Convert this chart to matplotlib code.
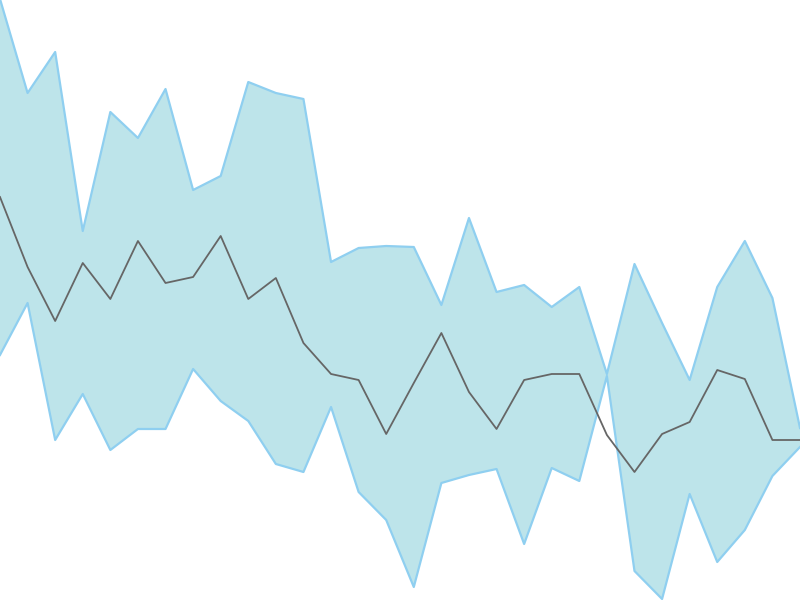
import numpy as np
import matplotlib.pyplot as plt

# values (higher = up)
x = np.arange(30)
upper = [601, 507, 548, 369, 488, 462, 511, 410, 424, 518, 507, 501,
         338, 352, 354, 353, 295, 382, 308, 315, 293, 313, 226,
         336, 277, 220, 313, 359, 302, 172]
lower = [245, 297, 160, 206, 150, 171, 171, 231, 199, 179, 136, 128,
         193, 108, 80, 13, 117, 125, 131, 56, 132, 119, 224,
         29, 1, 106, 38, 70, 124, 153]
middle = [403, 333, 279, 337, 301, 359, 317, 323, 364, 301, 322, 257,
          226, 220, 166, 217, 267, 208, 171, 220, 226, 226, 165,
          128, 166, 178, 230, 221, 160, 160]

fig = plt.figure(figsize=(8, 6), dpi=100)
ax = fig.add_axes([0, 0, 1, 1])

ax.fill_between(x, lower, upper, color='#bde4ea', linewidth=0)
ax.plot(x, upper, color='#8fcff0', linewidth=1.6)
ax.plot(x, lower, color='#8fcff0', linewidth=1.6)
ax.plot(x, middle, color='#666666', linewidth=1.3)

ax.set_xlim(0, 29)
ax.set_ylim(0, 600)
ax.axis('off')

plt.savefig('out.png', dpi=100)
plt.close()
